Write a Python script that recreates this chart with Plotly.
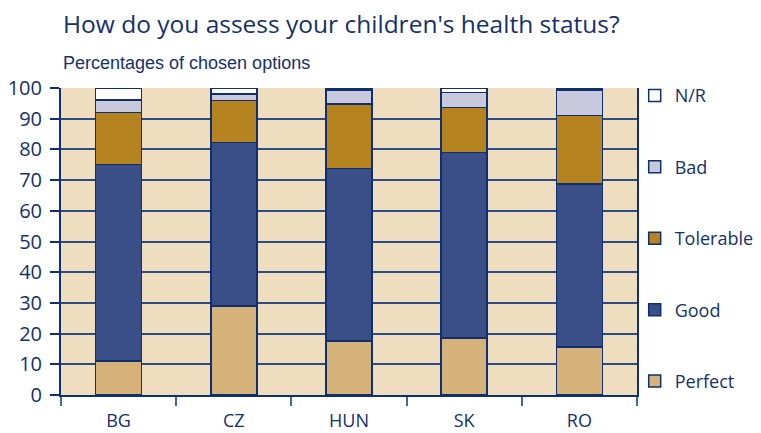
import plotly.graph_objects as go

# data
countries = ["BG", "CZ", "HUN", "SK", "RO"]
perfect = [11.1, 29.0, 17.6, 18.5, 15.7]
good = [64.0, 53.3, 56.2, 60.5, 53.1]
tolerable = [17.0, 13.6, 21.0, 14.6, 22.2]
bad = [4.0, 2.1, 4.5, 5.0, 8.3]
no_reply = [3.9, 2.0, 0.7, 1.4, 0.7]

series = [
    ("Perfect", perfect, "#D5B27A"),
    ("Good", good, "#3A4F87"),
    ("Tolerable", tolerable, "#B58420"),
    ("Bad", bad, "#C8C9DD"),
    ("N/R", no_reply, "#FFFFFF"),
]

navy = "#0F2F6E"
txt = "#15306B"
font = "Open Sans"

fig = go.Figure()
for i, (name, vals, col) in enumerate(series):
    fig.add_trace(go.Bar(
        x=countries, y=vals, name=name, legendgroup=name,
        legendrank=len(series) - i,
        marker=dict(color=col, line=dict(color=navy, width=1.5)),
        width=0.4,
    ))

# the page puts the figure 8px in from the top-left, so margins compensate
fig.update_layout(
    barmode="stack",
    width=761, height=433,
    margin=dict(l=53, r=132, t=80, b=46, autoexpand=False),
    paper_bgcolor="white",
    plot_bgcolor="#EEDDBF",
    font=dict(family=font, color=txt),
    showlegend=True,
    legend=dict(
        x=0.996, xanchor="left", y=1.035, yanchor="top",
        traceorder="grouped", tracegroupgap=45,
        font=dict(size=18, family=font, color=txt),
        bgcolor="rgba(0,0,0,0)", itemwidth=30, maxheight=420,
    ),
)

# title and subtitle
fig.add_annotation(
    text="How do you assess your children's health status?",
    xref="paper", yref="paper", x=0.0, y=1.21, xanchor="left", yanchor="middle",
    showarrow=False, font=dict(size=24.5, family=font, color=txt),
)
fig.add_annotation(
    text="Percentages of chosen options",
    xref="paper", yref="paper", x=0.0, y=1.083, xanchor="left", yanchor="middle",
    showarrow=False, font=dict(size=18, family="Liberation Sans", color=txt),
)

fig.update_yaxes(
    range=[0, 100], dtick=10,
    showgrid=True, gridcolor="#2C4C85", gridwidth=1.5,
    showline=True, linecolor=navy, linewidth=2, mirror=True,
    ticks="outside", ticklen=9, tickcolor=navy, tickwidth=2,
    tickfont=dict(size=20, family=font, color=txt),
    ticklabelstandoff=4,
    zeroline=False,
)
fig.update_xaxes(
    tickson="boundaries", ticks="outside", ticklen=9, tickcolor="#4A6596", tickwidth=2,
    showline=True, linecolor=navy, linewidth=2,
    showgrid=False,
    tickfont=dict(size=18, family=font, color=txt),
    ticklabelstandoff=8,
)

fig.write_html("out.html")
